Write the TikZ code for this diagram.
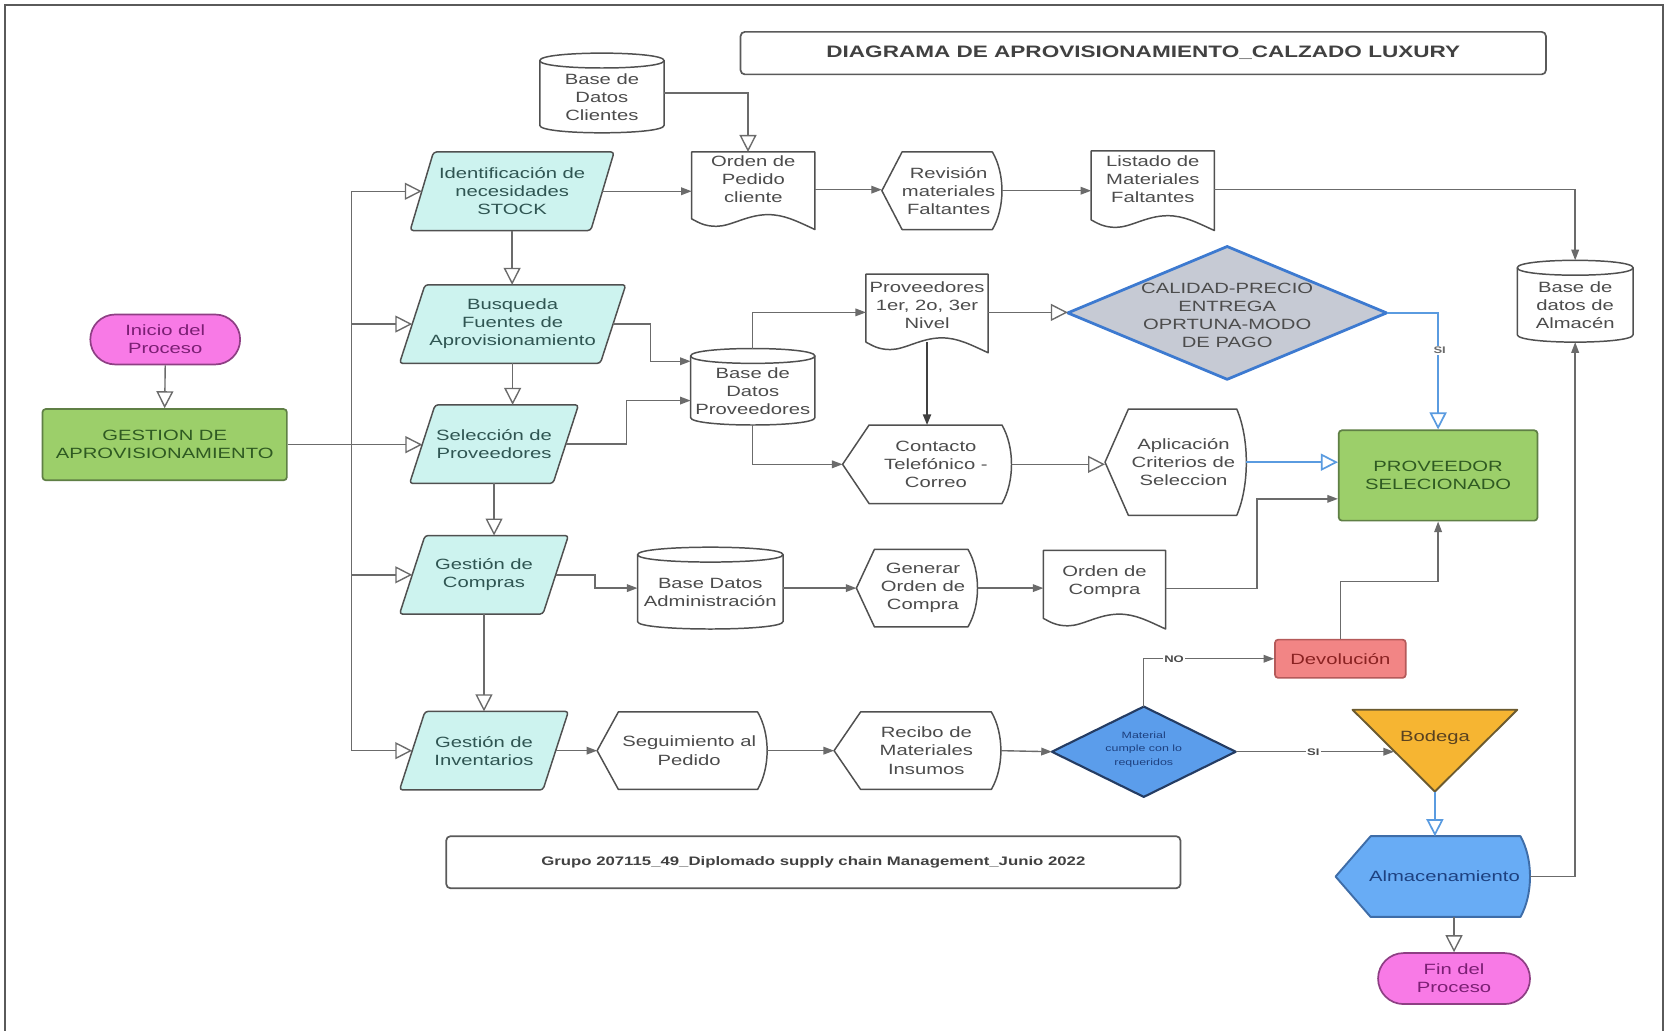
\documentclass[tikz,border=0pt]{standalone}
\usepackage{fontspec}
\setmainfont[FakeStretch=1.36]{Liberation Sans}
\usetikzlibrary{arrows.meta,calc}

\definecolor{lncol}{HTML}{6B6B6B}
\definecolor{txtcol}{HTML}{4C4C4C}
\definecolor{frcol}{HTML}{5A5A5A}
\definecolor{paratxt}{HTML}{2F5552}
\definecolor{parafill}{HTML}{CDF3EF}
\definecolor{shapebord}{HTML}{505050}
\definecolor{pinkfill}{HTML}{F87AE6}
\definecolor{pinkbord}{HTML}{8E3F84}
\definecolor{pinktxt}{HTML}{7B1F74}
\definecolor{grnfill}{HTML}{9CCF6A}
\definecolor{grnbord}{HTML}{5F7F45}
\definecolor{grntxt}{HTML}{2F5A22}
\definecolor{redfill}{HTML}{F28585}
\definecolor{redbord}{HTML}{B55A5A}
\definecolor{redtxt}{HTML}{8A2222}
\definecolor{orgfill}{HTML}{F6B532}
\definecolor{orgbord}{HTML}{6B5A2F}
\definecolor{orgtxt}{HTML}{5A4220}
\definecolor{bluefill}{HTML}{68ACF5}
\definecolor{bluebord}{HTML}{3E6DA8}
\definecolor{bluetxt}{HTML}{1E4180}
\definecolor{matfill}{HTML}{5B9DEB}
\definecolor{matbord}{HTML}{243C63}
\definecolor{calfill}{HTML}{C6CAD4}
\definecolor{calbord}{HTML}{3D7AD0}
\definecolor{blueln}{HTML}{5A9BE0}

\tikzset{
  ln/.style={draw=lncol, line width=0.65pt},
  fil/.style={ln, -{Triangle[length=5pt,width=3.6pt]}},
  hol/.style={ln, -{Triangle[open,length=8pt,width=8pt]}},
  bhol/.style={draw=blueln, line width=0.8pt, -{Triangle[open,length=8pt,width=8pt]}},
  box/.style={inner sep=0pt, outer sep=0pt},
  txt/.style={align=center, font=\fontsize{7}{8.5}\selectfont, text=txtcol, inner sep=0pt},
  parast/.style={fill=parafill, draw=shapebord, line width=0.7pt, rounded corners=1.5pt, line join=round},
  docst/.style={fill=white, draw=shapebord, line width=0.7pt, line join=round},
  dispst/.style={fill=white, draw=shapebord, line width=0.7pt, line join=round},
  cylst/.style={fill=white, draw=shapebord, line width=0.7pt},
  lbl/.style={fill=white, inner sep=0.6pt, font=\bfseries\fontsize{4.5}{5}\selectfont, text=txtcol},
}

% parallelogram: name, cx, cy, half width, slant, text
\newcommand\ParaShape[6]{%
  \filldraw[parast] ({#2-#4+#5},{#3-37}) -- ({#2+#4+#5},{#3-37}) -- ({#2+#4-#5},{#3+37}) -- ({#2-#4-#5},{#3+37}) -- cycle;
  \node[box, minimum width={#4*1pt}, minimum height=37pt] (#1) at (#2,#3) {};
  \node[txt, text=paratxt] (#1-t) at (#2,#3) {#6};
}
% display shape: name, x0, y0, x1, y1, point depth, shape style, text style, text
\newcommand\DispShape[9]{%
  \filldraw[#7] (#2,{(#3+#5)/2}) -- ({#2+#6},#3) -- ({#4-9},#3) .. controls ({#4+3},{#3+0.28*(#5-#3)}) and ({#4+3},{#5-0.28*(#5-#3)}) .. ({#4-9},#5) -- ({#2+#6},#5) -- cycle;
  \node[box, minimum width={(#4-#2)*0.5pt}, minimum height={(#5-#3)*0.5pt}] (#1) at ({(#2+#4)/2},{(#3+#5)/2}) {};
  \node[txt,#8] (#1-t) at ({(#2+#4)/2+#6/3},{(#3+#5)/2}) {#9};
}
% database cylinder: name, x0, y0, x1, y1, text shift, text
\newcommand\CylShape[7]{%
  \filldraw[cylst] (#2,{#3+7}) -- (#2,{#5-7}) .. controls (#2,{#5+2.33}) and (#4,{#5+2.33}) .. (#4,{#5-7}) -- (#4,{#3+7}) .. controls (#4,{#3-2.33}) and (#2,{#3-2.33}) .. cycle;
  \draw[cylst, fill=none] (#2,{#3+7}) .. controls (#2,{#3+16.33}) and (#4,{#3+16.33}) .. (#4,{#3+7});
  \node[box, minimum width={(#4-#2)*0.5pt}, minimum height={(#5-#3)*0.5pt}] (#1) at ({(#2+#4)/2},{(#3+#5)/2}) {};
  \node[txt] (#1-t) at ({(#2+#4)/2},{(#3+#5)/2+#6}) {#7};
}
% document with wavy bottom: name, x0, y0, x1, y1, text y, text
\newcommand\DocShape[7]{%
  \filldraw[docst] (#2,#3) -- (#4,#3) -- (#4,{#5+2}) .. controls ({#4-0.15*(#4-#2)},{#5-6}) and ({#2+0.75*(#4-#2)},{#5-12}) .. ({#2+0.62*(#4-#2)},{#5-12}) .. controls ({#2+0.45*(#4-#2)},{#5-12}) and ({#2+0.32*(#4-#2)},{#5-1}) .. ({#2+0.2*(#4-#2)},{#5-1}) .. controls ({#2+0.1*(#4-#2)},{#5-1}) and ({#2+0.05*(#4-#2)},{#5-5}) .. (#2,{#5-8}) -- cycle;
  \node[box, minimum width={(#4-#2)*0.5pt}, minimum height={(#5-#3)*0.5pt}] (#1) at ({(#2+#4)/2},{(#3+#5)/2}) {};
  \node[txt] (#1-t) at ({(#2+#4)/2},#6) {#7};
}

\begin{document}
\begin{tikzpicture}[x=0.5pt,y=-0.5pt]
\useasboundingbox (0,0) rectangle (1568,970);
\fill[white] (0,0) rectangle (1568,970);

% outer frame
\draw[frcol, line width=0.8pt] (5,970) -- (5,5) -- (1565,5) -- (1565,970);

% title and footer
\node[draw=frcol, line width=0.8pt, rounded corners=2pt, minimum width=379pt, minimum height=20pt,
      font=\bfseries\fontsize{7.8}{9}\selectfont, text=txtcol!85!black] (title) at (1076,50)
      {DIAGRAMA DE APROVISIONAMIENTO\_CALZADO LUXURY};
\node[draw=frcol, line width=0.8pt, rounded corners=2pt, minimum width=345.5pt, minimum height=24.5pt,
      font=\bfseries\fontsize{5.8}{7}\selectfont, text=txtcol!85!black] (foot) at (765.5,811.5)
      {Grupo 207115\_49\_Diplomado supply chain Management\_Junio 2022};

% start and main process
\node[align=center, font=\fontsize{7}{8.5}\selectfont, fill=pinkfill, draw=pinkbord, line width=0.8pt,
      text=pinktxt, minimum width=70.5pt, minimum height=23.5pt, rounded corners=11.7pt, inner sep=0pt]
      (inicio) at (155.5,319.5) {Inicio del\\Proceso};
\node[align=center, font=\fontsize{7}{8.5}\selectfont, fill=grnfill, draw=grnbord, line width=0.8pt,
      text=grntxt, minimum width=115pt, minimum height=33.5pt, rounded corners=1.5pt, inner sep=0pt]
      (gestion) at (155,418.5) {GESTION DE\\APROVISIONAMIENTO};

% process column
\ParaShape{ident}{482}{180}{85}{11}{Identificación de\\necesidades\\STOCK}
\ParaShape{busq}{482.5}{305}{94.5}{12}{Busqueda\\Fuentes de\\Aprovisionamiento}
\ParaShape{sel}{465}{418}{67.5}{12}{Selección de\\Proveedores}
\ParaShape{compras}{455.5}{541}{67.5}{12}{Gestión de\\Compras}
\ParaShape{invent}{455.5}{706.5}{67.5}{12}{Gestión de\\Inventarios}

% databases
\CylShape{cliDB}{508}{50}{625}{125}{4}{Base de\\Datos\\Clientes}
\CylShape{provDB}{650}{328}{767}{400}{4}{Base de\\Datos\\Proveedores}
\CylShape{adminDB}{600}{515}{737}{592}{4}{Base Datos\\Administración}
\CylShape{almDB}{1428}{245}{1537}{322}{4}{Base de\\datos de\\Almacén}

% documents
\DocShape{ordenPed}{651}{143}{767}{214}{169}{Orden de\\Pedido\\cliente}
\DocShape{listado}{1027}{142}{1143}{215}{169}{Listado de\\Materiales\\Faltantes}
\DocShape{provNiv}{815}{258}{930}{330}{287}{Proveedores\\1er, 2o, 3er\\Nivel}
\DocShape{ordenCompra}{982}{518}{1097}{590}{547}{Orden de\\Compra}

% display shapes
\DispShape{revision}{830}{143}{943}{216}{19}{dispst}{}{Revisión\\materiales\\Faltantes}
\DispShape{contacto}{793}{400}{952}{474}{25}{dispst}{}{Contacto\\Telefónico -\\Correo}
\DispShape{aplic}{1040}{385}{1173}{485}{22}{dispst}{}{Aplicación\\Criterios de\\Seleccion}
\DispShape{generar}{806}{517}{920}{590}{17}{dispst}{}{Generar\\Orden de\\Compra}
\DispShape{seguim}{562}{670}{722}{743}{20}{dispst}{}{Seguimiento al\\Pedido}
\DispShape{recibo}{785}{670}{942}{743}{25}{dispst}{}{Recibo de\\Materiales\\Insumos}
\DispShape{alm}{1257}{787}{1440}{863}{33}{fill=bluefill, draw=bluebord, line width=0.9pt, line join=round}{text=bluetxt}{Almacenamiento}

% decision on supplier criteria
\filldraw[fill=calfill, draw=calbord, line width=1.3pt, line join=round]
  (1005,294.5) -- (1155,232) -- (1305,294.5) -- (1155,357) -- cycle;
\node[box, minimum width=150pt, minimum height=62.5pt] (cal) at (1155,294.5) {};
\node[txt] (cal-t) at (1155,297) {CALIDAD-PRECIO\\ENTREGA\\OPRTUNA-MODO\\DE PAGO};

% decision on received material
\filldraw[fill=matfill, draw=matbord, line width=1pt, line join=round]
  (990,707.5) -- (1076.5,665) -- (1163,707.5) -- (1076.5,750) -- cycle;
\node[box, minimum width=86.5pt, minimum height=42.5pt] (mat) at (1076.5,707.5) {};
\node[txt, font=\fontsize{4.3}{6.5}\selectfont, text=bluetxt] (mat-t) at (1076.5,705.5) {Material\\cumple con lo\\requeridos};

% selected supplier, return, warehouse, end
\node[align=center, font=\fontsize{7}{8.5}\selectfont, fill=grnfill, draw=grnbord, line width=0.8pt,
      text=grntxt, minimum width=93.5pt, minimum height=42.5pt, rounded corners=1.5pt, inner sep=0pt]
      (prov) at (1353.5,447.5) {PROVEEDOR\\SELECIONADO};
\node[align=center, font=\fontsize{7}{8.5}\selectfont, fill=redfill, draw=redbord, line width=0.8pt,
      text=redtxt, minimum width=61.5pt, minimum height=18pt, rounded corners=1.5pt, inner sep=0pt]
      (devol) at (1261.5,620) {Devolución};
\filldraw[fill=orgfill, draw=orgbord, line width=0.9pt, line join=round]
  (1273,668) -- (1428,668) -- (1350.5,745) -- cycle;
\node[box, minimum width=77.5pt, minimum height=38.5pt] (bod) at (1350.5,706.5) {};
\node[txt, text=orgtxt] (bod-t) at (1350.5,694) {Bodega};
\coordinate (bodin) at (1312,707.5);
\node[align=center, font=\fontsize{7}{8.5}\selectfont, fill=pinkfill, draw=pinkbord, line width=0.8pt,
      text=pinktxt, minimum width=71.5pt, minimum height=24pt, rounded corners=12pt, inner sep=0pt]
      (fin) at (1368.5,921) {Fin del\\Proceso};

% ---------- connectors ----------
\draw[hol] (inicio.south) -- (gestion.north);
\coordinate (bus) at (331,418.5);
\draw[hol] (gestion.east) -- (gestion.east -| sel.west);
\draw[hol] (bus) |- (ident.west);
\draw[hol] (bus) |- (busq.west);
\draw[hol] (bus) |- (compras.west);
\draw[hol] (bus) |- (invent.west);

\draw[hol] (ident.south) -- (ident.south |- busq.north);
\draw[hol] (busq.south) -- (busq.south |- sel.north);
\draw[hol] (sel.south) -- (sel.south |- compras.north);
\draw[hol] (compras.south) -- (compras.south |- invent.north);

% first row
\draw[hol] (cliDB.east) -| ($(ordenPed.north)+(-5,0)$);
\draw[fil] (ident.east) -- (ident.east -| ordenPed.west);
\draw[fil] (ordenPed.east) -- (ordenPed.east -| revision.west);
\draw[fil] (revision.east) -- (revision.east -| listado.west);
\draw[fil] (listado.east) -| (almDB.north);

% suppliers
\draw[fil] (busq.east) -- ++(35,0) |- ($(provDB.west)+(0,-24)$);
\draw[fil] (sel.east) -- ++(57,0) |- ($(provDB.west)+(0,13)$);
\draw[fil] (provDB.north) |- (provNiv.west);
\draw[fil] (provDB.south) |- (contacto.west);
\draw[hol] (provNiv.east) -- (provNiv.east -| cal.west);
\draw[draw=black!75, line width=0.9pt, -{Triangle[length=5pt,width=3.8pt]}] ($(provNiv.south)+(0,-8)$) -- (contacto.north);
\draw[bhol] (cal.east) -| (prov.north);
\node[lbl, text=lncol] (lsi1) at (1355,330) {SI};
\draw[hol] (contacto.east) -- (contacto.east -| aplic.west);
\draw[bhol] (aplic.east) -- (aplic.east -| prov.west);

% purchasing
\draw[fil] (compras.east) -- ++(37,0) |- (adminDB.west);
\draw[fil] (adminDB.east) -- (generar.west);
\draw[fil] (generar.east) -- (generar.east -| ordenCompra.west);
\draw[fil] (ordenCompra.east) -- ++(86,0) |- ($(prov.west)+(0,22)$);

% inventory
\draw[fil] (invent.east) -- (seguim.west);
\draw[fil] (seguim.east) -- (recibo.west);
\draw[fil] (recibo.east) -- (mat.west);
\draw[fil] (mat.north) |- (devol.west);
\node[lbl] (lno) at (1105,620) {NO};
\draw[fil] (devol.north) -- ++(0,-54) -| (prov.south);
\draw[fil] (mat.east) -- (bodin);
\node[lbl] (lsi2) at (1236,707.5) {SI};
\draw[bhol] (bod.south) -- (bod.south |- alm.north);
\draw[fil] (alm.east) -| (almDB.south);
\draw[hol] (fin.north |- alm.south) -- (fin.north);
\end{tikzpicture}
\end{document}
